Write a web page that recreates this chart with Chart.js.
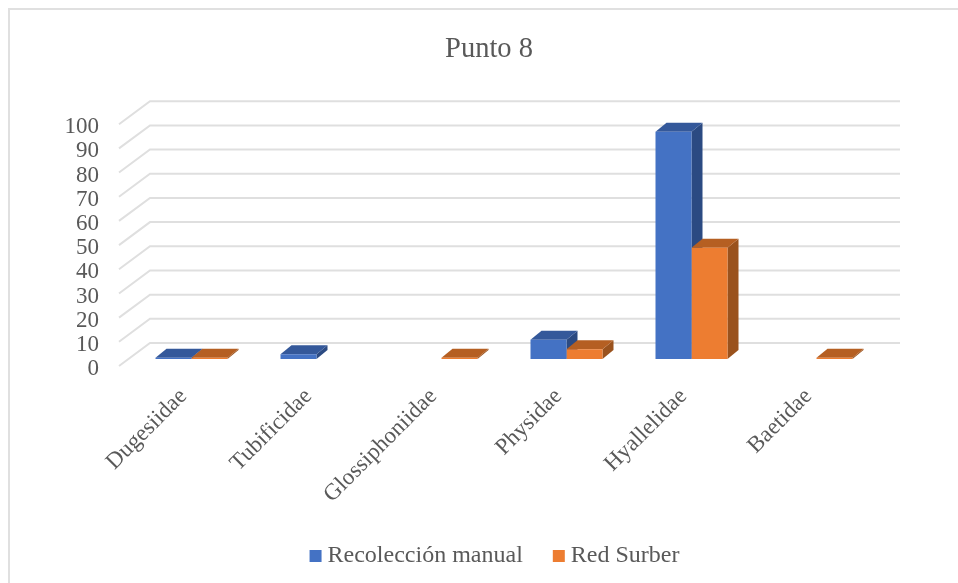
<!DOCTYPE html>
<html>
<head>
<meta charset="utf-8">
<script src="https://cdn.jsdelivr.net/npm/chart.js@4"></script>
<style>
    html, body { margin: 0; padding: 0; background: white; overflow: hidden; }
    #frame { position: absolute; left: 8px; top: 8px; width: 960px; height: 590px; border-left: 2px solid #e0e0e0; border-top: 2px solid #e0e0e0; }
    canvas { position: absolute; left: 0; top: 0; }
</style>
</head>
<body>
<div id="frame"></div>
<canvas id="puntoChart" width="958" height="583"></canvas>
<script>
const categories = ['Dugesiidae', 'Tubificidae', 'Glossiphoniidae', 'Physidae', 'Hyallelidae', 'Baetidae'];
const recoleccion = [0.5, 2, null, 8, 94, null];
const redSurber = [0.5, null, 0.5, 4, 46, 0.5];
const yTicks = [0, 10, 20, 30, 40, 50, 60, 70, 80, 90, 100];

const depth = { x: 11, y: -9 };
const sideColors = ['#2b4a82', '#9a521d'];
const topColors = ['#34589a', '#b55f22'];

function face(ctx, color, points) {
    ctx.fillStyle = color;
    ctx.beginPath();
    points.forEach((p, i) => i ? ctx.lineTo(p[0], p[1]) : ctx.moveTo(p[0], p[1]));
    ctx.closePath();
    ctx.fill();
}

// walls and bar sides go under the flat bars that Chart.js draws
const fakeThreeD = {
    id: 'fakeThreeD',
    afterLayout(chart) {
        // title and legend are centred on the whole frame in the original, not the plot
        chart.titleBlock.left += 79;
        chart.legend.left += 96;
        chart.legend.top -= 5;
    },
    beforeDatasetsDraw(chart) {
        const ctx = chart.ctx;
        const area = chart.chartArea;
        const y = chart.scales.y;

        ctx.save();
        ctx.strokeStyle = '#dfdfdf';
        ctx.lineWidth = 2;
        y.ticks.forEach(tick => {
            const py = y.getPixelForValue(tick.value);
            ctx.beginPath();
            ctx.moveTo(area.left - 10, py + 7);
            ctx.lineTo(area.left + 21, py - 16);
            ctx.lineTo(area.right + 21, py - 16);
            ctx.stroke();
        });

        [0, 1].forEach(d => {
            chart.getDatasetMeta(d).data.forEach((bar, i) => {
                if (chart.data.datasets[d].data[i] === null) return;
                const half = bar.width / 2;
                const l = bar.x - half;
                const r = bar.x + half;
                face(ctx, sideColors[d], [[r, bar.y], [r + depth.x, bar.y + depth.y], [r + depth.x, bar.base + depth.y], [r, bar.base]]);
                face(ctx, topColors[d], [[l, bar.y], [l + depth.x, bar.y + depth.y], [r + depth.x, bar.y + depth.y], [r, bar.y]]);
            });
        });
        ctx.restore();
    }
};

const ctx = document.getElementById('puntoChart').getContext('2d');

new Chart(ctx, {
    type: 'bar',
    plugins: [fakeThreeD],
    data: {
        labels: categories,
        datasets: [
            { label: 'Recolección manual', data: recoleccion, backgroundColor: '#4472c4' },
            { label: 'Red Surber', data: redSurber, backgroundColor: '#ed7d31' }
        ]
    },
    options: {
        responsive: false,
        animation: false,
        layout: { padding: { left: 20, right: 79, top: 32, bottom: 0 } },
        datasets: { bar: { categoryPercentage: 0.576, barPercentage: 1 } },
        plugins: {
            title: {
                display: true,
                text: 'Punto 8',
                color: '#595959',
                font: { family: '"Liberation Serif"', size: 28.5, weight: 'normal' },
                padding: { top: 0, bottom: 51 }
            },
            legend: {
                position: 'bottom',
                labels: {
                    color: '#595959',
                    usePointStyle: true,
                    pointStyle: 'rect',
                    boxWidth: 0.01,
                    boxHeight: 12,
                    padding: 36,
                    font: { family: '"Liberation Serif"', size: 24 }
                }
            },
            tooltip: { enabled: false }
        },
        scales: {
            x: {
                grid: { display: false },
                border: { display: false },
                afterFit: scale => { scale.height = 154; },
                ticks: {
                    color: '#595959',
                    maxRotation: 45,
                    minRotation: 45,
                    padding: 16,
                    labelOffset: -8,
                    autoSkip: false,
                    font: { family: '"Liberation Serif"', size: 23 }
                }
            },
            y: {
                min: 0,
                max: 100,
                grid: { display: false },
                border: { display: false },
                afterBuildTicks: scale => { scale.ticks = yTicks.map(value => ({ value })); },
                afterFit: scale => { scale.width = 109; },
                ticks: {
                    color: '#595959',
                    padding: 22,
                    labelOffset: 10,
                    autoSkip: false,
                    font: { family: '"Liberation Serif"', size: 23 }
                }
            }
        }
    }
});
</script>
</body>
</html>
